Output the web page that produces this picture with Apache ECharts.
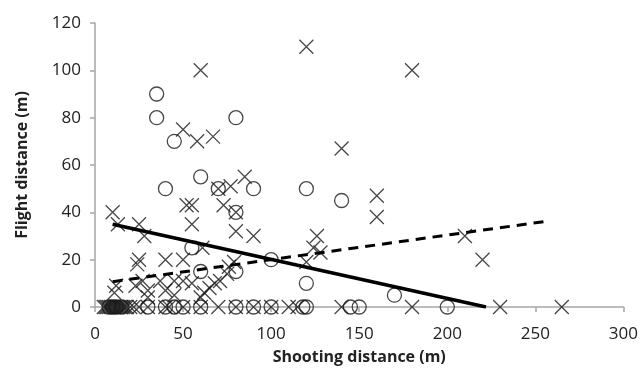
<!DOCTYPE html>
<html><head><meta charset="utf-8">
<script src="https://cdn.jsdelivr.net/npm/echarts@6/dist/echarts.min.js"></script>
<style>html,body{margin:0;padding:0;background:#fff}#c{width:641px;height:381px}</style>
</head><body><div id="c"></div>
<script>
// Cross markers (x = shooting distance, y = flight distance)
const crossX = [5,6,7,8,9,10,11,12,13,14,15,16,17,18,20,22,25,30,40,42,50,60,70,80,90,100,110,115,140,180,230,265,
  10,13,25,28,25,24,40,50,12,11,23,27,30,30,37,40,45,45,50,55,60,62,65,68,71,75,76,79,61,55,52,55,73,80,80,90,70,77,85,60,50,58,67,120,180,140,126,124,128,120,160,160,210,220];
const crossY = [0,0,0,0,0,0,0,0,0,0,0,0,0,0,0,0,0,0,0,0,0,0,0,0,0,0,0,0,0,0,0,0,
  40,35,35,30,20,18,20,20,9,6,9,11,7,4,11,7,5,11,11,10,4,6,8,10,11,14,17,19,25,35,43,43,43,40,32,30,50,51,55,100,75,70,72,110,100,67,30,25,23,19,47,38,30,20];
// Circle markers
const circleX = [8,10,12,15,30,40,45,50,60,80,90,100,118,120,145,150,200,
  35,35,45,80,40,60,70,90,80,55,60,80,100,120,140,120,170];
const circleY = [0,0,0,0,0,0,0,0,0,0,0,0,0,0,0,0,0,
  90,80,70,80,50,55,50,50,40,25,15,15,20,50,45,10,5];
// Trend lines (endpoints)
const solidTrendX = [10, 222];
const solidTrendY = [35, 0];
const dashTrendX = [10, 258];
const dashTrendY = [10.7, 36.4];
const xTicks = [0,50,100,150,200,250,300];
const yTicks = [0,20,40,60,80,100,120];

const zip = (a,b) => a.map((v,i)=>[v,b[i]]);
const font = '"Open Sans", sans-serif';
const chart = echarts.init(document.getElementById('c'), null, {renderer:'canvas'});
chart.setOption({
  animation:false,
  grid:{left:95,right:16,top:23,bottom:74},
  xAxis:{type:'value',min:xTicks[0],max:xTicks[xTicks.length-1],interval:50,
    name:'Shooting distance (m)',nameLocation:'middle',nameGap:42,
    nameTextStyle:{fontFamily:font,fontWeight:'bold',fontSize:16,color:'#222'},
    axisLine:{lineStyle:{color:'#a6a6a6',width:1.5}},
    axisTick:{show:true,length:5,lineStyle:{color:'#a6a6a6',width:1.5}},
    axisLabel:{fontFamily:font,fontSize:17,color:'#222',margin:19},
    splitLine:{show:false}},
  yAxis:{type:'value',min:yTicks[0],max:yTicks[yTicks.length-1],interval:20,
    name:'Flight distance (m)',nameLocation:'middle',nameGap:65,nameRotate:90,
    nameTextStyle:{fontFamily:font,fontWeight:'bold',fontSize:16,color:'#222'},
    axisLine:{show:true,lineStyle:{color:'#a6a6a6',width:1.5}},
    axisTick:{show:true,length:5,lineStyle:{color:'#a6a6a6',width:1.5}},
    axisLabel:{fontFamily:font,fontSize:17,color:'#222',margin:14},
    splitLine:{show:false}},
  series:[
    {type:'scatter',data:zip(crossX,crossY),symbol:'path://M0,0L10,10M10,0L0,10',symbolSize:14,
      itemStyle:{color:'none',borderColor:'#1a1a1a',borderWidth:1.3}},
    {type:'scatter',data:zip(circleX,circleY),symbol:'circle',symbolSize:14,
      itemStyle:{color:'rgba(0,0,0,0)',borderColor:'#1a1a1a',borderWidth:1.3}},
    {type:'line',data:zip(solidTrendX,solidTrendY),showSymbol:false,symbol:'none',
      lineStyle:{color:'#000',width:3.5}},
    {type:'line',data:zip(dashTrendX,dashTrendY),showSymbol:false,symbol:'none',
      lineStyle:{color:'#000',width:3,type:[10,7]}}
  ]
});
</script></body></html>
